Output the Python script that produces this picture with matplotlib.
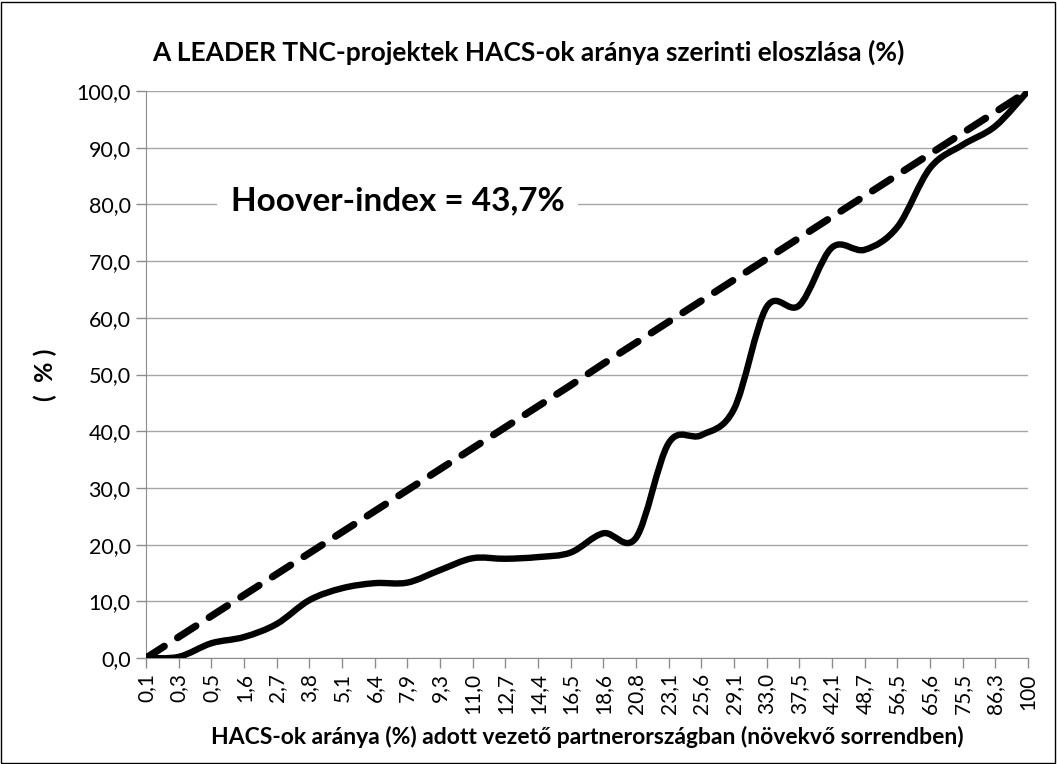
import numpy as np
import matplotlib
matplotlib.use('Agg')
import matplotlib.pyplot as plt
from matplotlib.path import Path
from matplotlib.patches import PathPatch, Rectangle

plt.rcParams['font.family'] = ['Lato', 'DejaVu Sans']

# x categories: HACS share (%) in leading partner country (ascending)
categories = ['0,1', '0,3', '0,5', '1,6', '2,7', '3,8', '5,1', '6,4', '7,9', '9,3',
              '11,0', '12,7', '14,4', '16,5', '18,6', '20,8', '23,1', '25,6', '29,1',
              '33,0', '37,5', '42,1', '48,7', '56,5', '65,6', '75,5', '86,3', '100']

# cumulative distribution of projects (%)
actual = [0.0, 0.2, 2.6, 3.7, 6.0, 10.2, 12.3, 13.2, 13.3, 15.5,
          17.6, 17.5, 17.8, 18.6, 22.0, 21.2, 37.9, 39.3, 43.9,
          61.9, 62.2, 72.4, 72.0, 76.0, 86.4, 90.5, 93.8, 100.0]

# equal distribution line (%)
equal = [0.0, 3.7, 7.4, 11.1, 14.8, 18.5, 22.2, 25.9, 29.6, 33.3,
         37.0, 40.7, 44.4, 48.1, 51.9, 55.6, 59.3, 63.0, 66.7,
         70.4, 74.1, 77.8, 81.5, 85.2, 88.9, 92.6, 96.3, 100.0]

hoover_text = 'Hoover-index = 43,7%'


def smooth_path(x, y):
    """Excel-style smoothed line as cubic Bezier path."""
    pts = np.column_stack([x, y]).astype(float)
    n = len(pts)
    verts = [pts[0]]
    codes = [Path.MOVETO]
    for i in range(n - 1):
        p0 = pts[i - 1] if i > 0 else pts[i]
        p1 = pts[i]
        p2 = pts[i + 1]
        p3 = pts[i + 2] if i + 2 < n else pts[i + 1]
        c1 = p1 + (p2 - p0) / 6.0
        c2 = p2 - (p3 - p1) / 6.0
        verts += [c1, c2, p2]
        codes += [Path.CURVE4] * 3
    return Path(verts, codes)


fig = plt.figure(figsize=(10.57, 7.64), dpi=100)
ax = fig.add_axes([146 / 1057, 1 - 658 / 764, (1028 - 146) / 1057, (658 - 91) / 764])

x = np.arange(len(categories))

ax.plot(x, equal, color='black', linewidth=5.2, linestyle=(0, (3.0, 2.2)),
        dash_capstyle='round', zorder=3)
patch = PathPatch(smooth_path(x, actual), facecolor='none', edgecolor='black',
                  linewidth=4.6, capstyle='round', joinstyle='round', zorder=4)
ax.add_patch(patch)

ax.set_xlim(0, len(categories) - 1)
ax.set_ylim(0, 100)
ax.set_xticks(x)
ax.set_xticklabels(categories, rotation=90, fontsize=15)
yt = np.arange(0, 101, 10)
ax.set_yticks(yt)
ax.set_yticklabels([f'{v:.1f}'.replace('.', ',') for v in yt], fontsize=15.5)
ax.grid(axis='y', color='#a6a6a6', linewidth=1)
ax.set_axisbelow(True)
for s in ['top', 'right']:
    ax.spines[s].set_visible(False)
for s in ['left', 'bottom']:
    ax.spines[s].set_color('#8c8c8c')
ax.tick_params(axis='both', color='#8c8c8c', length=7, width=1)
ax.tick_params(axis='y', pad=4)
ax.tick_params(axis='x', pad=4)

fig.text(528 / 1057, 1 - 52 / 764, 'A LEADER TNC-projektek HACS-ok aránya szerinti eloszlása (%)',
         fontsize=19, fontweight='bold', ha='center', va='center')
ax.set_ylabel('(  % )', fontsize=18, fontweight='bold', labelpad=14)
ax.set_xlabel('HACS-ok aránya (%) adott vezető partnerországban (növekvő sorrendben)',
              fontsize=16.5, fontweight='bold', labelpad=8)

ax.text(7.7, 80.7, hoover_text, fontsize=24, fontweight='bold', ha='center', va='center',
        bbox=dict(facecolor='white', edgecolor='none', pad=10), zorder=2)

fig.patches.append(Rectangle((0.001, 0.001), 0.997, 0.997, transform=fig.transFigure,
                             fill=False, edgecolor='black', linewidth=1))

fig.savefig('out.png', dpi=100)
